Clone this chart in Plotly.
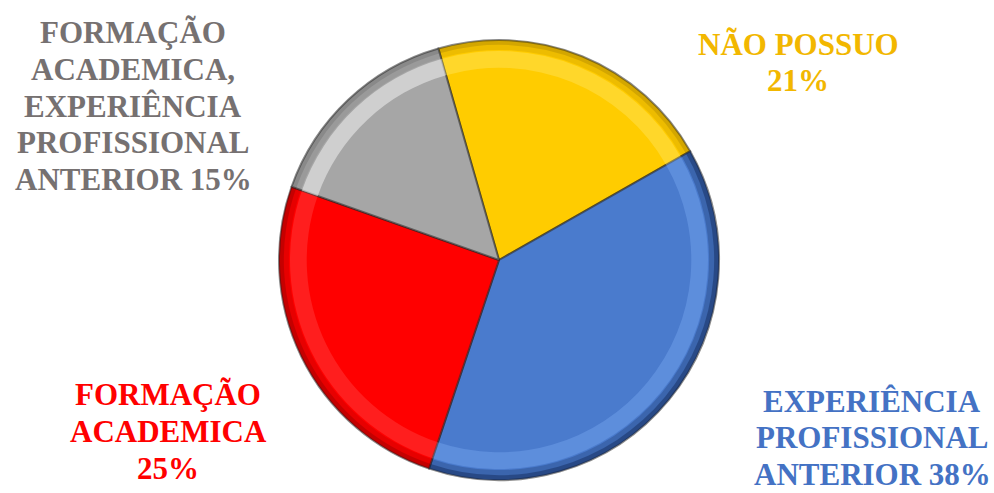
import plotly.graph_objects as go

# Survey answers, clockwise from the top
categories = [
    "NÃO POSSUO",
    "EXPERIÊNCIA<br>PROFISSIONAL<br>ANTERIOR",
    "FORMAÇÃO<br>ACADEMICA",
    "FORMAÇÃO<br>ACADEMICA,<br>EXPERIÊNCIA<br>PROFISSIONAL<br>ANTERIOR",
]
percent = [21, 38, 25, 15]
value_separator = ["<br>", " ", "<br>", " "]

slice_colors = ["#FFCC00", "#4A7BCD", "#FF0000", "#A6A6A6"]
shade_rgb = ["120,90,0", "15,35,80", "110,0,0", "60,60,60"]
shade_alpha = [0.22, 0.42, 0.28, 0.18]
light_rgb = ["255,235,120", "140,185,255", "255,120,120", "240,240,240"]
light_alpha = [0.35, 0.30, 0.25, 0.55]
text_colors = ["#F2B700", "#4472C4", "#FF0000", "#767171"]

# label block placement: horizontal centre and first-line baseline (px from top-left)
label_x = [798, 872, 168, 133]
label_top = [54.5, 411.5, 405, 43]
line_step = 36.7
font_size = 31

W, H = 994, 493
cx, cy, r = 499, 260, 220
SERIF = "Liberation Serif"


def dom(scale):
    rr = r * scale
    return dict(x=[(cx - rr) / W, (cx + rr) / W], y=[(H - cy - rr) / H, (H - cy + rr) / H])


common = dict(values=percent, sort=False, direction="clockwise", rotation=-16,
              textinfo="none", hoverinfo="skip", showlegend=False)

fig = go.Figure()
# base slices
fig.add_trace(go.Pie(domain=dom(1.0),
                     marker=dict(colors=slice_colors,
                                 line=dict(color="rgba(40,40,40,0.55)", width=2)),
                     **common))
# soft highlight band just inside the rim
fig.add_trace(go.Pie(domain=dom(0.95), hole=0.92,
                     marker=dict(colors=[f"rgba({c},{a})" for c, a in zip(light_rgb, light_alpha)],
                                 line=dict(width=0)),
                     **common))
# graded shading towards the outer edge
for hole, k in [(0.955, 0.6), (0.978, 1.0)]:
    fig.add_trace(go.Pie(domain=dom(1.0), hole=hole,
                         marker=dict(colors=[f"rgba({c},{a * k:.3f})"
                                             for c, a in zip(shade_rgb, shade_alpha)],
                                     line=dict(width=0)),
                         **common))

# labels, one annotation per line so the line pitch is controlled
for name, p, sep, col, x, top in zip(categories, percent, value_separator,
                                     text_colors, label_x, label_top):
    lines = f"{name}{sep}{p}%".split("<br>")
    for i, line in enumerate(lines):
        baseline = top + i * line_step
        fig.add_annotation(
            x=x / W, y=1 - (baseline - 0.33 * font_size) / H, xref="paper", yref="paper",
            xanchor="center", yanchor="middle", showarrow=False,
            text=line, align="center",
            font=dict(family=SERIF, size=font_size, color=col, weight="bold"),
        )

fig.update_layout(width=W, height=H, margin=dict(l=0, r=0, t=0, b=0),
                  font=dict(family=SERIF),
                  paper_bgcolor="white", plot_bgcolor="white")
fig.write_html("out.html")
